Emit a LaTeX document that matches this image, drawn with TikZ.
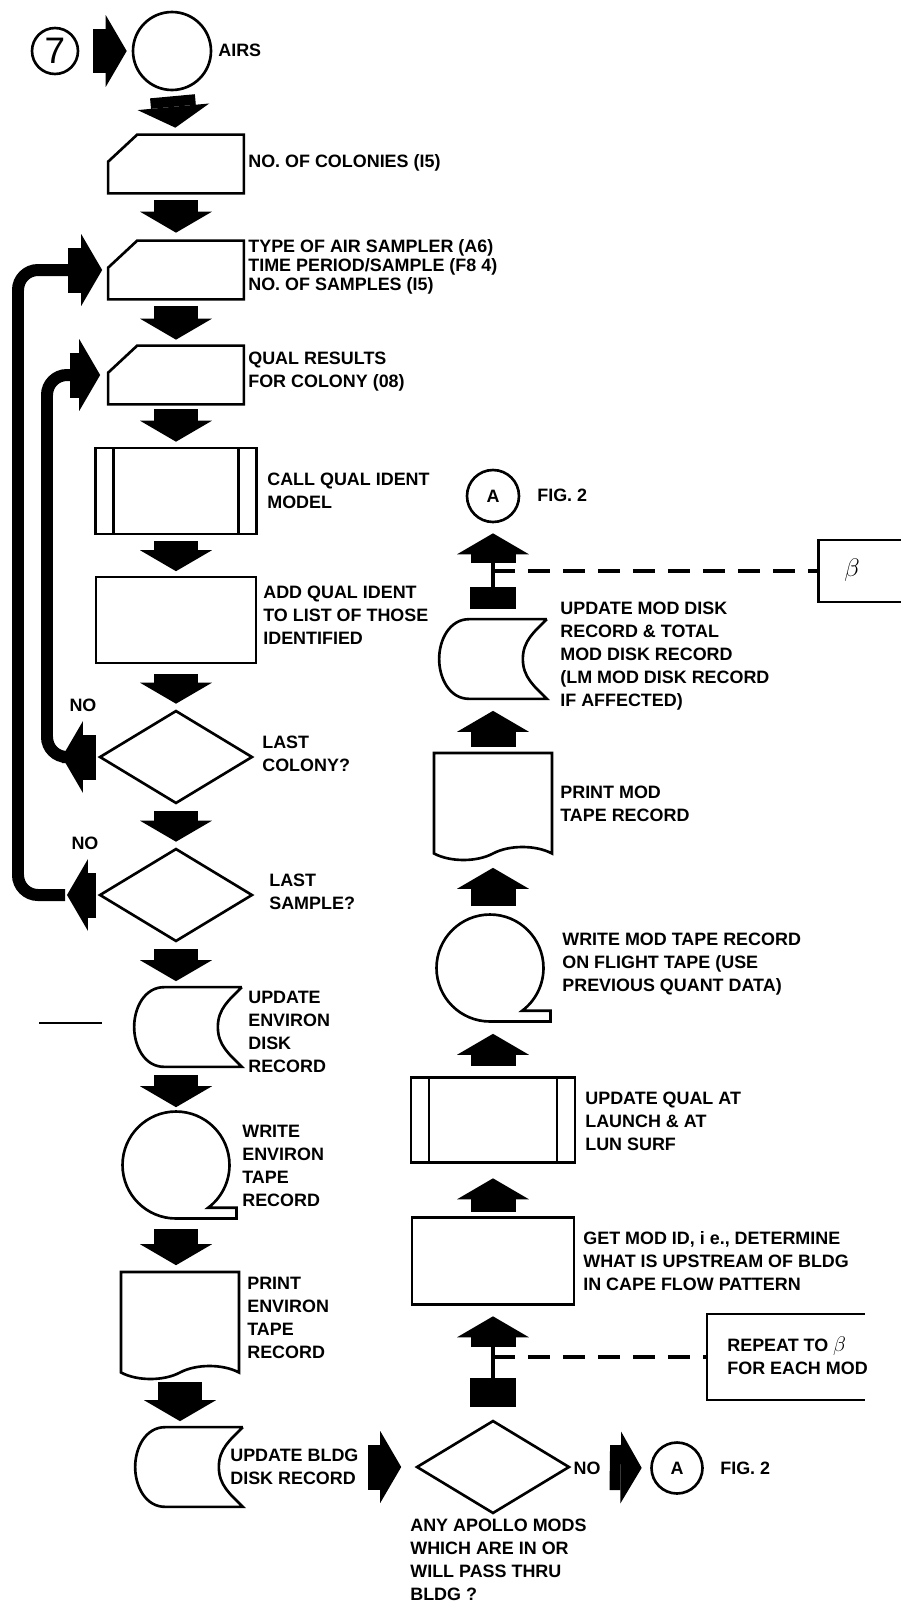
\documentclass[tikz,border=0pt]{standalone}
\usepackage{fontspec}
\setmainfont{Liberation Sans}
\usetikzlibrary{arrows.meta, shapes.geometric, shapes.symbols}

\begin{document}
\begin{tikzpicture}[
    x=0.02cm, y=0.02cm,
    shapeline/.style={line width=1.5pt},
    lbl/.style={anchor=west, align=left, inner sep=0pt, font=\bfseries\fontsize{10.2}{13}\selectfont},
    conn/.style={circle, draw, shapeline, inner sep=0pt, font=\bfseries\fontsize{10.2}{13}\selectfont},
    card/.style={rectangle, inner sep=0pt, minimum width=2.7cm, minimum height=1.16cm,
        append after command={\pgfextra{\let\cardnode\tikzlastnode
            \draw[shapeline] ([xshift=0.58cm]\cardnode.north west) -- (\cardnode.north east)
                -- (\cardnode.south east) -- (\cardnode.south west)
                -- ([yshift=-0.54cm]\cardnode.north west) -- cycle;}}},
    predef/.style={rectangle, draw, shapeline, minimum width=3.22cm, minimum height=1.72cm,
        path picture={\draw[shapeline]
            ([xshift=0.36cm]path picture bounding box.north west) -- ([xshift=0.36cm]path picture bounding box.south west)
            ([xshift=-0.36cm]path picture bounding box.north east) -- ([xshift=-0.36cm]path picture bounding box.south east);}},
    procbox/.style={rectangle, draw, shapeline, minimum width=3.2cm, minimum height=1.72cm},
    decision/.style={diamond, draw, shapeline, inner sep=0pt, minimum width=3.06cm, minimum height=1.86cm},
    storeddata/.style={rectangle, inner sep=0pt, minimum width=2.14cm, minimum height=1.58cm,
        append after command={\pgfextra{\let\disknode\tikzlastnode
            \draw[shapeline] (\disknode.north east) -- ([xshift=0.6cm]\disknode.north west)
                to[out=180, in=90] (\disknode.west)
                to[out=-90, in=180] ([xshift=0.6cm]\disknode.south west)
                -- (\disknode.south east)
                to[out=135, in=-90] ([xshift=-0.48cm]\disknode.east)
                to[out=90, in=-135] (\disknode.north east);}}},
    magtape/.style={magnetic tape, draw, shapeline, inner sep=0pt, minimum size=2.14cm,
        magnetic tape tail extend=0.14cm, magnetic tape tail=0.2},
    docbox/.style={tape, draw, shapeline, inner sep=0pt, minimum width=2.36cm, minimum height=2.14cm,
        tape bend top=none, tape bend bottom=in and out, tape bend height=0.26cm},
    bigarrow/.style={line width=0.9cm, -{Triangle[length=0.42cm, width=1.44cm, line width=0pt]}},
    bigstub/.style={line width=0.92cm},
    stemline/.style={line width=2pt},
    loopline/.style={line width=0.24cm, rounded corners=0.4cm},
    dashline/.style={line width=2pt, dash pattern=on 0.44cm off 0.26cm}
]
    \useasboundingbox (0,0) rectangle (900,-1606);

    % left column
    \node[conn, minimum size=0.92cm, font=\fontsize{21}{21}\selectfont] (seven) at (55,-51) {7};
    \node[circle, draw, shapeline, minimum size=1.56cm] (airs) at (172,-51) {};
    \node[lbl] at (218,-50) {AIRS};

    \node[card] (colonies) at (176,-164) {};
    \node[lbl] at (248,-163) {NO. OF COLONIES (I5)};
    \node[card] (sampler) at (176,-270) {};
    \node[lbl, font=\bfseries\fontsize{10.2}{10.8}\selectfont] at (248,-267) {TYPE OF AIR SAMPLER (A6)\\TIME PERIOD/SAMPLE (F8 4)\\NO. OF SAMPLES (I5)};
    \node[card] (qualres) at (176,-375) {};
    \node[lbl] at (248,-372) {QUAL RESULTS\\FOR COLONY (08)};

    \node[predef] (callqual) at (176,-491) {};
    \node[lbl] at (267,-491) {CALL QUAL IDENT\\MODEL};
    \node[procbox] (addqual) at (176,-620) {};
    \node[lbl] at (263,-615) {ADD QUAL IDENT\\TO LIST OF THOSE\\IDENTIFIED};

    \node[decision] (lastcol) at (176,-757) {};
    \node[lbl] at (262,-754) {LAST\\COLONY?};
    \node[lbl, anchor=center] at (83,-705) {NO};
    \node[decision] (lastsmp) at (176,-895) {};
    \node[lbl] at (269,-892) {LAST\\SAMPLE?};
    \node[lbl, anchor=center] at (85,-843) {NO};

    \node[storeddata] (envdisk) at (188,-1027) {};
    \node[lbl] at (248,-1032) {UPDATE\\ENVIRON\\DISK\\RECORD};
    \node[magtape] (envtape) at (176,-1165) {};
    \node[lbl] at (242,-1166) {WRITE\\ENVIRON\\TAPE\\RECORD};
    \node[docbox] (envprint) at (180,-1319) {};
    \node[lbl] at (247,-1318) {PRINT\\ENVIRON\\TAPE\\RECORD};
    \node[storeddata] (bldgdisk) at (189,-1467) {};
    \node[lbl] at (230,-1467) {UPDATE BLDG\\DISK RECORD};

    % right column
    \node[decision] (anymods) at (493,-1467) {};
    \node[lbl] at (410,-1560) {ANY APOLLO MODS\\WHICH ARE IN OR\\WILL PASS THRU\\BLDG ?};
    \node[lbl, anchor=center] at (587,-1468) {NO};
    \node[conn, minimum size=1.02cm] (abottom) at (677,-1468) {A};
    \node[lbl] at (720,-1468) {FIG. 2};

    \node[procbox, minimum width=3.24cm, minimum height=1.74cm] (getmod) at (493,-1261) {};
    \node[lbl] at (583,-1261) {GET MOD ID, i e., DETERMINE\\WHAT IS UPSTREAM OF BLDG\\IN CAPE FLOW PATTERN};
    \node[rectangle, minimum width=3.14cm, minimum height=1.7cm] (repeatbox) at (786,-1357) {};
    \node[lbl] at (727,-1356) {REPEAT TO {\fontsize{13}{13}\selectfont$\beta$}\\FOR EACH MOD};

    \node[predef, minimum width=3.28cm, minimum height=1.7cm] (updqual) at (493,-1120) {};
    \node[lbl] at (585,-1121) {UPDATE QUAL AT\\LAUNCH \& AT\\LUN SURF};
    \node[magtape] (modtape) at (490,-968) {};
    \node[lbl] at (562,-964) {WRITE MOD TAPE RECORD\\ON FLIGHT TAPE (USE\\PREVIOUS QUANT DATA)};
    \node[docbox] (modprint) at (493,-800) {};
    \node[lbl] at (560,-804) {PRINT MOD\\TAPE RECORD};
    \node[storeddata] (moddisk) at (493,-659) {};
    \node[lbl] at (560,-656) {UPDATE MOD DISK\\RECORD \& TOTAL\\MOD DISK  RECORD\\(LM MOD DISK RECORD\\IF AFFECTED)};
    \node[conn, minimum size=1.04cm] (atop) at (493,-496) {A};
    \node[lbl] at (537,-495) {FIG. 2};
    \node[rectangle, draw, shapeline, minimum width=2.1cm, minimum height=1.24cm, anchor=west] (betabox) at (817,-571) {};
    \node at (852,-570) {\fontsize{15}{15}\selectfont$\beta$};

    \coordinate (innerx) at (47,-600);
    \coordinate (outerx) at (18,-600);
    \coordinate (topsplit) at (493,-571);
    \coordinate (botsplit) at (493,-1357);

    % loops
    \draw[loopline, shorten <=0.72cm, shorten >=0.62cm] (lastcol.west) -| (innerx) |- (qualres.west);
    \draw[loopline, shorten <=0.66cm, shorten >=0.64cm] (lastsmp.west) -| (outerx) |- (sampler.west);

    % arrows down
    \draw[bigarrow, shorten <=0.28cm, shorten >=0.1cm] (seven.east) -- (airs.west);
    \draw[bigarrow, shorten <=0.1cm, shorten >=0.14cm] (airs.south) -- (colonies.north);
    \draw[bigarrow, shorten <=0.14cm, shorten >=0.16cm] (colonies.south) -- (sampler.north);
    \draw[bigarrow, shorten <=0.13cm, shorten >=0.12cm] (sampler.south) -- (qualres.north);
    \draw[bigarrow, shorten <=0.1cm, shorten >=0.1cm] (qualres.south) -- (callqual.north);
    \draw[bigarrow, shorten <=0.12cm, shorten >=0.09cm] (callqual.south) -- (addqual.north);
    \draw[bigarrow, shorten <=0.19cm, shorten >=0.11cm] (addqual.south) -- (lastcol.north);
    \draw[bigarrow, shorten <=0.13cm, shorten >=0.11cm] (lastcol.south) -- (lastsmp.north);
    \draw[bigarrow, shorten <=0.13cm, shorten >=0.12cm] (lastsmp.south) -- (lastsmp.south |- envdisk.north);
    \draw[bigarrow, shorten <=0.16cm, shorten >=0.06cm] (envdisk.south -| envtape.north) -- (envtape.north);
    \draw[bigarrow, shorten <=0.18cm, shorten >=0.11cm] (envtape.south) -- (envtape.south |- envprint.north);
    \draw[bigarrow, shorten <=0.3cm, shorten >=0.12cm] (envprint.south) -- (envprint.south |- bldgdisk.north);

    % loop arrows
    \draw[bigarrow, shorten <=0.04cm, shorten >=0.3cm] (lastcol.west) -- (innerx |- lastcol.west);
    \draw[bigarrow, shorten <=0.04cm, shorten >=0.98cm] (lastsmp.west) -- (outerx |- lastsmp.west);
    \draw[bigarrow, shorten <=0.46cm, shorten >=0.16cm] (innerx |- qualres.west) -- (qualres.west);
    \draw[bigarrow, shorten <=1.0cm, shorten >=0.12cm] (outerx |- sampler.west) -- (sampler.west);

    % across the bottom
    \draw[bigarrow, shorten <=2.51cm, shorten >=0.28cm] (bldgdisk.east) -- (anymods.west);
    \draw[bigarrow, shorten <=0.78cm, shorten >=0.17cm] (anymods.east) -- (abottom.west);

    % arrows up
    \draw[stemline, shorten <=0.3cm, shorten >=0.3cm] (anymods.north) -- (getmod.south);
    \draw[bigstub, shorten <=0.24cm, shorten >=0.42cm] (anymods.north) -- (botsplit);
    \draw[bigarrow, shorten <=0.2cm, shorten >=0.21cm] (botsplit) -- (getmod.south);
    \draw[dashline] (botsplit) -- (repeatbox.west);
    \draw[shapeline] (repeatbox.north east) -- (repeatbox.north west) -- (repeatbox.south west) -- (repeatbox.south east);

    \draw[bigarrow, shorten <=0.09cm, shorten >=0.29cm] (getmod.north) -- (updqual.south);
    \draw[bigarrow, shorten <=0.21cm, shorten >=0.22cm] (updqual.north) -- (updqual.north |- modtape.south);
    \draw[bigarrow, shorten <=0.14cm, shorten >=0.39cm] (modtape.north -| modprint.south) -- (modprint.south);
    \draw[bigarrow, shorten <=0.09cm, shorten >=0.24cm] (modprint.north) -- (moddisk.south);

    \draw[stemline, shorten <=0.3cm, shorten >=0.3cm] (moddisk.north) -- (atop.south);
    \draw[bigstub, shorten <=0.2cm, shorten >=0.32cm] (moddisk.north) -- (topsplit);
    \draw[bigarrow, shorten <=0.16cm, shorten >=0.2cm] (topsplit) -- (atop.south);
    \draw[dashline] (topsplit) -- (betabox.west);

    % stray rule
    \draw[line width=1pt] (39,-1023) -- (102,-1023);
\end{tikzpicture}
\end{document}
